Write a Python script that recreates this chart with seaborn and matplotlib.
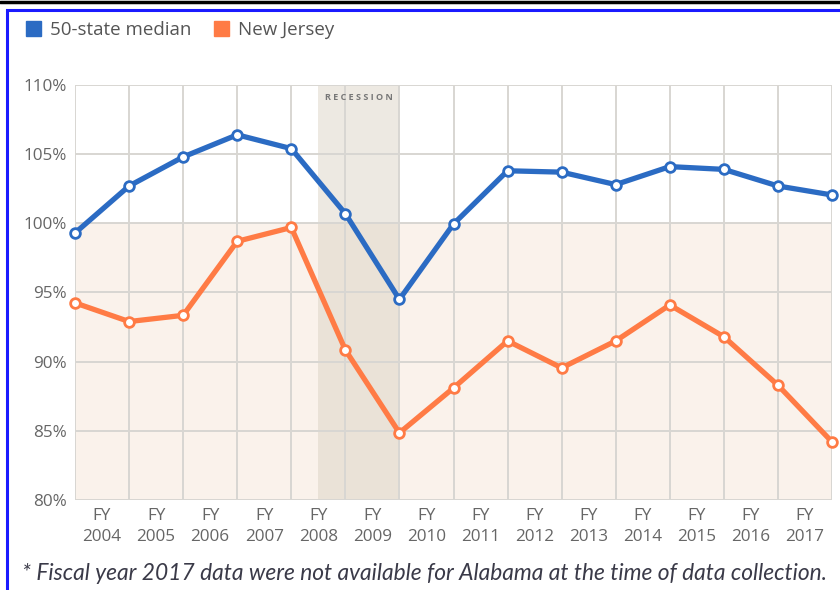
import pandas as pd
import matplotlib.pyplot as plt
import seaborn as sns
from matplotlib.patches import Patch, Rectangle
from matplotlib.lines import Line2D

# data (15 points, gridline positions 0..14)
periods = list(range(15))
median_vals = [99.3, 102.7, 104.8, 106.4, 105.4, 100.7, 94.5, 99.95, 103.8,
               103.7, 102.8, 104.1, 103.9, 102.7, 102.05]
nj_vals = [94.25, 92.9, 93.35, 98.7, 99.7, 90.85, 84.85, 88.1, 91.5,
           89.55, 91.5, 94.1, 91.8, 88.3, 84.2]
fy_labels = ["FY\n%d" % y for y in range(2004, 2018)]
y_ticks = [80, 85, 90, 95, 100, 105, 110]
recession = (4.5, 6.0)

blue = "#2b6bc3"
orange = "#ff7b45"

df = pd.DataFrame({
    "period": periods * 2,
    "value": median_vals + nj_vals,
    "series": ["50-state median"] * 15 + ["New Jersey"] * 15,
})

sns.set_style("white")
plt.rcParams["font.family"] = ["Open Sans", "DejaVu Sans"]

fig = plt.figure(figsize=(8.4, 5.9), dpi=100)
ax = fig.add_axes([75 / 840, 1 - 500 / 590, 757 / 840, 415 / 590])

ax.axhspan(80, 100, color="#faf2eb", zorder=0, lw=0)
ax.axvspan(*recession, color="#d8cfbf", alpha=0.45, zorder=0.3, lw=0)

for name, col in [("50-state median", blue), ("New Jersey", orange)]:
    sns.lineplot(data=df[df.series == name], x="period", y="value", ax=ax,
                 color=col, lw=3.8, marker="o", ms=7, mfc="white", mec=col,
                 mew=2, clip_on=False, zorder=3, legend=False)

ax.set_xlim(0, 14)
ax.set_ylim(80, 110)
ax.set_xticks(periods, minor=True)
ax.set_xticks([p + 0.5 for p in periods[:-1]])
ax.set_xticklabels(fy_labels, fontsize=12.3, color="#666666", linespacing=1.35)
ax.set_yticks(y_ticks)
ax.set_yticklabels(["%d%%" % v for v in y_ticks], fontsize=12.3, color="#666666")
ax.tick_params(axis="both", which="both", length=0)
ax.tick_params(axis="x", pad=6)
ax.tick_params(axis="y", pad=6)
ax.set_axisbelow(True)
ax.grid(False)
ax.grid(True, axis="x", which="minor", color="#d8d6d2", lw=1.4)
ax.grid(True, axis="y", which="major", color="#d8d6d2", lw=1.4)
for s in ax.spines.values():
    s.set_visible(False)
ax.set_xlabel("")
ax.set_ylabel("")

ax.text(sum(recession) / 2, 109.1, "R E C E S S I O N", ha="center", va="center",
        fontsize=6.5, color="#777777", fontweight="bold")

handles = [Patch(color=blue), Patch(color=orange)]
fig.legend(handles, ["50-state median", "New Jersey"], loc="center left",
           bbox_to_anchor=(18 / 840, 1 - 30 / 590), ncol=2, frameon=False,
           fontsize=13.5, labelcolor="#555555", handlelength=0.8, handleheight=0.8,
           handletextpad=0.5, columnspacing=1.2, borderaxespad=0)

fig.text(22 / 840, 1 - 574 / 590,
         "* Fiscal year 2017 data were not available for Alabama at the time of data collection.",
         family=["Lato", "DejaVu Sans"], style="italic", fontsize=16.4,
         color="#3a3a48", va="center", ha="left")

fig.add_artist(Line2D([0, 1], [1 - 2 / 590] * 2, color="black", lw=2.5))
fig.add_artist(Rectangle((7 / 840, -0.05), 1.0, 1 - 10 / 590 + 0.05, fill=False,
                         ec="#1a1aff", lw=2.2, transform=fig.transFigure))

fig.savefig("out.png", dpi=100)
